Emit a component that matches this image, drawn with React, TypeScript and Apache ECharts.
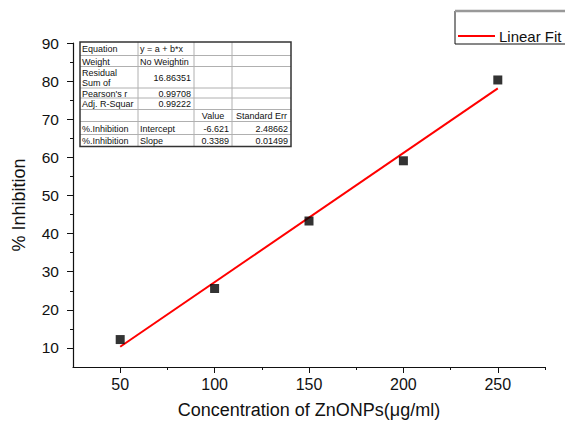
import React, { useEffect, useRef } from "react";
import * as echarts from "echarts";

const concentration = [50, 100, 150, 200, 250];
const inhibition = [12.2, 25.6, 43.3, 59.1, 80.3];
const fitX = [50, 250];
const fitY = [10.3, 78.1];
const xMajorTicks = [50, 100, 150, 200, 250];
const xMinorTicks = [75, 125, 175, 225, 275];
const yMajorTicks = [10, 20, 30, 40, 50, 60, 70, 80, 90];
const yMinorTicks = [15, 25, 35, 45, 55, 65, 75, 85];

// table contents: [text, align] per cell
const tableRows: [string, string][][] = [
  [["Equation", "left"], ["y = a + b*x", "left"], ["", "left"], ["", "left"]],
  [["Weight", "left"], ["No Weightin", "left"], ["", "left"], ["", "left"]],
  [["Residual\nSum of", "left"], ["16.86351", "right"], ["", "left"], ["", "left"]],
  [["Pearson's r", "left"], ["0.99708", "right"], ["", "left"], ["", "left"]],
  [["Adj. R-Squar", "left"], ["0.99222", "right"], ["", "left"], ["", "left"]],
  [["", "left"], ["", "left"], ["Value", "center"], ["Standard Err", "center"]],
  [["%.Inhibition", "left"], ["Intercept", "left"], ["-6.621", "right"], ["2.48662", "right"]],
  [["%.Inhibition", "left"], ["Slope", "left"], ["0.3389", "right"], ["0.01499", "right"]],
];
const rowEdges = [42, 55.5, 66.5, 88, 98, 109.5, 121.5, 134.5, 146.5];
const colEdges = [80, 138, 194, 232, 291];

export default function App() {
  const ref = useRef<HTMLDivElement>(null);
  useEffect(() => {
    if (!ref.current) return;
    const chart = echarts.init(ref.current, null, { renderer: "svg" });
    const font = "Liberation Sans, Arial, sans-serif";

    const graphics: any[] = [];
    for (let i = 1; i < rowEdges.length - 1; i++) {
      graphics.push({
        type: "line",
        shape: { x1: colEdges[0], y1: rowEdges[i], x2: colEdges[4], y2: rowEdges[i] },
        style: { stroke: "#b0b0b0", lineWidth: 1 },
      });
    }
    for (let j = 1; j < colEdges.length - 1; j++) {
      graphics.push({
        type: "line",
        shape: { x1: colEdges[j], y1: rowEdges[0], x2: colEdges[j], y2: rowEdges[rowEdges.length - 1] },
        style: { stroke: "#b0b0b0", lineWidth: 1 },
      });
    }
    graphics.push({
      type: "rect",
      shape: {
        x: colEdges[0],
        y: rowEdges[0],
        width: colEdges[4] - colEdges[0],
        height: rowEdges[rowEdges.length - 1] - rowEdges[0],
      },
      style: { fill: "none", stroke: "#333", lineWidth: 1.5 },
    });
    tableRows.forEach((row, i) => {
      row.forEach(([txt, align], j) => {
        if (!txt) return;
        const x0 = colEdges[j];
        const x1 = colEdges[j + 1];
        const multi = txt.includes("\n");
        const x = align === "left" ? x0 + 2 : align === "right" ? x1 - 3 : (x0 + x1) / 2;
        const y = multi ? rowEdges[i] + 1.5 : (rowEdges[i] + rowEdges[i + 1]) / 2 + 0.5;
        graphics.push({
          type: "text",
          x,
          y,
          style: {
            text: txt,
            fill: "#111",
            font: `9px ${font}`,
            align,
            verticalAlign: multi ? "top" : "middle",
            lineHeight: 10,
          },
        });
      });
    });
    // legend box
    graphics.push({
      type: "rect",
      shape: { x: 455, y: 11, width: 130, height: 33 },
      style: { fill: "#fff", stroke: "#111", lineWidth: 1 },
    });
    graphics.push({
      type: "line",
      shape: { x1: 455, y1: 11, x2: 565, y2: 11 },
      style: { stroke: "#999", lineWidth: 2.5 },
    });
    graphics.push({
      type: "line",
      shape: { x1: 458, y1: 36, x2: 495, y2: 36 },
      style: { stroke: "#ff0000", lineWidth: 2 },
    });
    graphics.push({
      type: "text",
      x: 499,
      y: 36,
      style: { text: "Linear Fit", fill: "#111", font: `15px ${font}`, verticalAlign: "middle" },
    });

    const common = {
      type: "value",
      splitLine: { show: false },
    };

    chart.setOption({
      animation: false,
      backgroundColor: "#fff",
      textStyle: { fontFamily: font },
      grid: { left: 73, right: 20, top: 43, bottom: 58 },
      xAxis: [
        {
          ...common,
          min: 25,
          max: 275,
          name: "Concentration of ZnONPs(μg/ml)",
          nameLocation: "middle",
          nameGap: 34,
          nameTextStyle: { fontSize: 18, color: "#111", fontFamily: font },
          axisLine: { show: true, lineStyle: { color: "#111", width: 1.2 } },
          axisTick: { show: true, customValues: xMajorTicks, length: 6, lineStyle: { color: "#111" } },
          axisLabel: { customValues: xMajorTicks, fontSize: 16, color: "#111", margin: 9, fontFamily: font },
        },
        {
          ...common,
          min: 25,
          max: 275,
          position: "bottom",
          axisLine: { show: false },
          axisTick: { show: true, customValues: xMinorTicks, length: 3, lineStyle: { color: "#111" } },
          axisLabel: { show: false },
        },
      ],
      yAxis: [
        {
          ...common,
          min: 5,
          max: 90,
          name: "% Inhibition",
          nameLocation: "middle",
          nameGap: 45,
          nameTextStyle: { fontSize: 18, color: "#111", fontFamily: font },
          axisLine: { show: true, lineStyle: { color: "#111", width: 1.2 } },
          axisTick: { show: true, customValues: yMajorTicks, length: 6, lineStyle: { color: "#111" } },
          axisLabel: { customValues: yMajorTicks, fontSize: 15.5, color: "#111", margin: 14, fontFamily: font },
        },
        {
          ...common,
          min: 5,
          max: 90,
          position: "left",
          axisLine: { show: false },
          axisTick: { show: true, customValues: yMinorTicks, length: 3, lineStyle: { color: "#111" } },
          axisLabel: { show: false },
        },
      ],
      series: [
        {
          type: "line",
          data: fitX.map((x, i) => [x, fitY[i]]),
          showSymbol: false,
          symbol: "none",
          lineStyle: { color: "#ff0000", width: 2 },
          z: 2,
        },
        {
          type: "scatter",
          data: concentration.map((x, i) => [x, inhibition[i]]),
          symbol: "rect",
          symbolSize: 9,
          itemStyle: { color: "#000" },
          z: 3,
        },
      ],
      graphic: graphics,
    });
    return () => chart.dispose();
  }, []);
  return (
    <div
      ref={ref}
      style={{ position: "fixed", left: 0, top: 0, width: 565, height: 425 }}
    />
  );
}
